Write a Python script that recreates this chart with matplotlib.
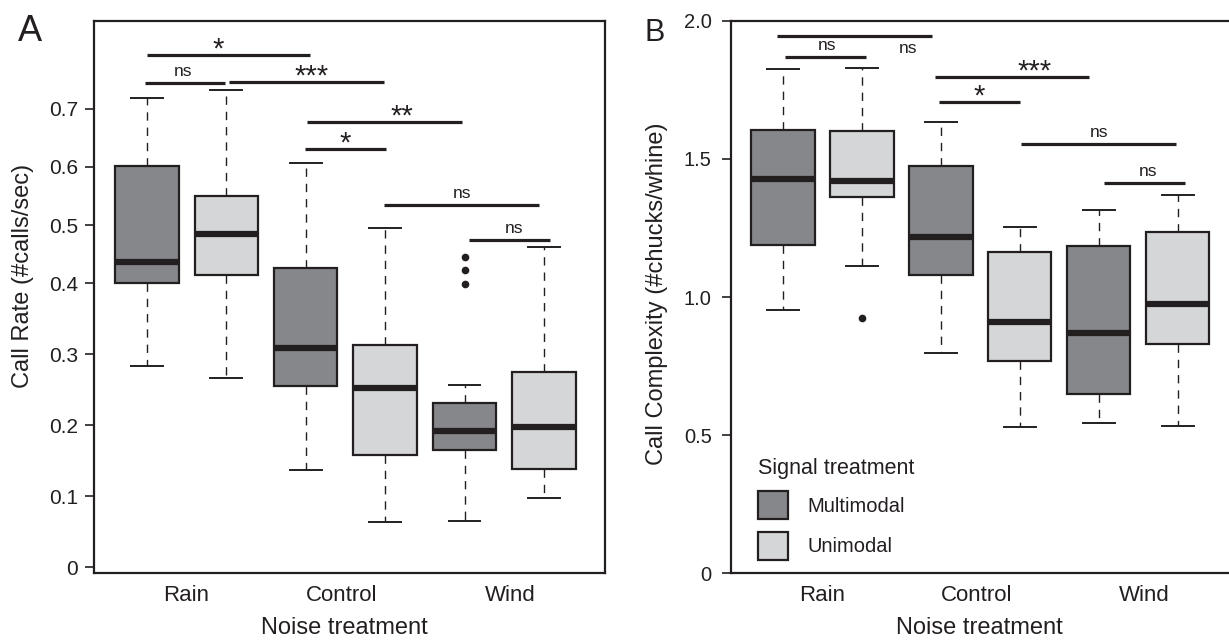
import numpy as np
import matplotlib
matplotlib.use("Agg")
import matplotlib.pyplot as plt
from matplotlib.patches import Patch

plt.rcParams['font.family'] = ['Liberation Sans', 'DejaVu Sans']
INK = '#231f20'

noise = ["Rain", "Control", "Wind"]
signal = ["Multimodal", "Unimodal"]
fills = ['#86878b', '#d5d6d8']

# box order: Rain M, Rain U, Control M, Control U, Wind M, Wind U
rate_whislo = [0.284, 0.267, 0.137, 0.064, 0.065, 0.097]
rate_q1 = [0.401, 0.414, 0.255, 0.158, 0.165, 0.138]
rate_med = [0.437, 0.484, 0.309, 0.253, 0.192, 0.197]
rate_q3 = [0.602, 0.550, 0.426, 0.313, 0.232, 0.275]
rate_whishi = [0.718, 0.732, 0.606, 0.495, 0.256, 0.463]
rate_fliers = [[], [], [], [], [0.399, 0.423, 0.445], []]

cx_whislo = [0.953, 1.111, 0.796, 0.530, 0.543, 0.534]
cx_q1 = [1.188, 1.361, 1.080, 0.770, 0.649, 0.830]
cx_med = [1.428, 1.421, 1.218, 0.911, 0.869, 0.976]
cx_q3 = [1.604, 1.600, 1.474, 1.163, 1.186, 1.234]
cx_whishi = [1.824, 1.830, 1.633, 1.253, 1.315, 1.369]
cx_fliers = [[], [0.923], [], [], [], []]

# significance bars: (from, to, height, label, label x, label y or None)
rate_sig = [(1.00, 3.05, 0.792, '*', 1.90, None),
            (0.97, 1.99, 0.744, 'ns', 1.46, None),
            (2.04, 3.98, 0.745, '***', 3.07, None),
            (3.02, 4.97, 0.677, '**', 4.21, None),
            (2.99, 4.01, 0.630, '*', 3.50, None),
            (3.99, 5.94, 0.534, 'ns', 4.97, None),
            (5.06, 6.08, 0.474, 'ns', 5.62, None)]
cx_sig = [(0.92, 2.89, 1.945, 'ns', 2.58, 1.884),
          (1.03, 2.05, 1.868, 'ns', 1.56, None),
          (2.92, 4.88, 1.795, '***', 4.19, None),
          (2.97, 4.00, 1.705, '*', 3.49, None),
          (4.02, 5.98, 1.553, 'ns', 5.00, None),
          (5.06, 6.09, 1.411, 'ns', 5.62, None)]

positions = np.arange(1, 7)
label_pos = [1.5, 3.45, 5.58]


def make_stats(lo, q1, med, q3, hi, fl):
    return [dict(whislo=a, q1=b, med=c, q3=d, whishi=e, fliers=f)
            for a, b, c, d, e, f in zip(lo, q1, med, q3, hi, fl)]


def draw_boxes(ax, stats):
    bp = ax.bxp(stats, positions=positions, widths=0.8, patch_artist=True,
                boxprops=dict(lw=1.6, edgecolor=INK),
                medianprops=dict(color=INK, lw=4.5, solid_capstyle='butt'),
                whiskerprops=dict(color=INK, lw=1.0, linestyle=(0, (6, 5))),
                capprops=dict(color=INK, lw=1.4),
                flierprops=dict(marker='o', markerfacecolor=INK, markeredgecolor=INK,
                                markersize=4.5))
    for i, box in enumerate(bp['boxes']):
        box.set_facecolor(fills[i % 2])


def draw_sig(ax, sig):
    for x1, x2, y, lab, tx, ty in sig:
        ax.plot([x1, x2], [y, y], color=INK, lw=2.3, solid_capstyle='butt', clip_on=False)
        if ty is not None:
            ax.text(tx, ty, lab, ha='center', va='baseline', fontsize=12.5, color=INK)
        elif lab == 'ns':
            ax.annotate(lab, (tx, y), xytext=(0, 5), textcoords='offset points',
                        ha='center', va='baseline', fontsize=12.5, color=INK)
        else:
            ax.annotate(lab, (tx, y), xytext=(0, -1.5), textcoords='offset points',
                        ha='center', va='baseline', fontsize=21, color=INK)


def style(ax, pad):
    ax.set_xticks(label_pos)
    ax.set_xticklabels(noise, fontsize=16, color=INK)
    ax.tick_params(axis='x', length=0, pad=8.5)
    ax.tick_params(axis='y', length=6.5, width=1.2, color=INK, labelsize=15, pad=pad,
                   labelcolor=INK)
    for s in ax.spines.values():
        s.set_linewidth(1.6)
        s.set_color(INK)
    ax.set_xlim(0.334, 6.763)


fig = plt.figure(figsize=(12.29, 6.42), dpi=100)
axA = fig.add_axes([94 / 1229, 68.7 / 642, 510.5 / 1229, 552.6 / 642])
axB = fig.add_axes([730.5 / 1229, 68.7 / 642, 507.5 / 1229, 552.6 / 642])

# panel A: the printed axis is stretched below 0.4 and squeezed above it
k = 582 / 710


def fwd(y):
    y = np.asarray(y, dtype=float)
    return np.where(y <= 0.4, y, 0.4 + (y - 0.4) * k)


def inv(u):
    u = np.asarray(u, dtype=float)
    return np.where(u <= 0.4, u, 0.4 + (u - 0.4) / k)


axA.set_yscale('function', functions=(fwd, inv))
draw_boxes(axA, make_stats(rate_whislo, rate_q1, rate_med, rate_q3, rate_whishi, rate_fliers))
draw_sig(axA, rate_sig)
style(axA, 4.8)
axA.set_ylim(-0.0085, 0.851)
yt = [0, 0.1, 0.2, 0.3, 0.4, 0.5, 0.6, 0.7]
axA.set_yticks(yt)
axA.set_yticklabels(['0'] + ['%.1f' % v for v in yt[1:]])
axA.yaxis.set_minor_locator(matplotlib.ticker.NullLocator())
axA.set_ylabel('Call Rate (#calls/sec)', fontsize=17, color=INK)
axA.yaxis.set_label_coords(-0.1175, 0.538)
axA.set_xlabel('Noise treatment', fontsize=17, color=INK)
axA.xaxis.set_label_coords(0.49, -0.079)

# panel B
draw_boxes(axB, make_stats(cx_whislo, cx_q1, cx_med, cx_q3, cx_whishi, cx_fliers))
draw_sig(axB, cx_sig)
style(axB, 7)
axB.set_ylim(0, 2.0)
axB.set_yticks([0, 0.5, 1.0, 1.5, 2.0])
axB.set_yticklabels(['0', '0.5', '1.0', '1.5', '2.0'])
axB.tick_params(axis='y', labelsize=14.5)
axB.spines['right'].set_visible(False)
axB.set_ylabel('Call Complexity (#chucks/whine)', fontsize=17, color=INK)
axB.yaxis.set_label_coords(-0.123, 0.506)
axB.set_xlabel('Noise treatment', fontsize=17, color=INK)
axB.xaxis.set_label_coords(0.49, -0.079)

handles = [Patch(facecolor=fills[i], edgecolor=INK, lw=1.6, label=signal[i]) for i in range(2)]
leg = axB.legend(handles=handles, title='Signal treatment', loc='upper left',
                 bbox_to_anchor=(758.3 / 1229, 1 - 458 / 642), bbox_transform=fig.transFigure,
                 frameon=False, fontsize=14.5, title_fontsize=15.5, alignment='left',
                 borderpad=0, borderaxespad=0, handlelength=1.49, handleheight=1.77,
                 handletextpad=0.95, labelspacing=0.61)
for t in leg.get_texts():
    t.set_color(INK)
leg.get_title().set_color(INK)

fig.text(17.8 / 1229, 1 - 40.7 / 642, 'A', fontsize=26, va='baseline', color=INK)
fig.text(644.7 / 1229, 1 - 40.7 / 642, 'B', fontsize=22, va='baseline', color=INK)

fig.savefig('out.png', dpi=100)
